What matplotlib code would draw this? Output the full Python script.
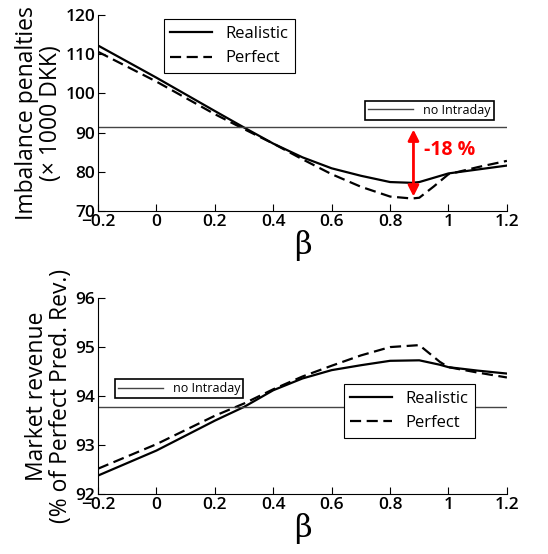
import matplotlib.pyplot as plt
import numpy as np

beta = [-0.2, 0.0, 0.2, 0.3, 0.4, 0.5, 0.6, 0.7, 0.8, 0.875, 0.9, 0.95, 1.0, 1.1, 1.2]

# top: imbalance penalties (x 1000 DKK)
pen_real = [112.2, 104.0, 95.5, 91.3, 87.2, 83.7, 80.9, 79.0, 77.4, 77.2, 77.4, 78.5, 79.6, 80.6, 81.6]
pen_perf = [110.6, 103.0, 94.7, 90.9, 87.2, 83.2, 79.4, 76.2, 73.7, 73.2, 73.4, 76.3, 79.4, 81.2, 82.8]
pen_noid = 91.5

# bottom: market revenue (% of perfect pred. rev.)
beta_rev = [-0.2, 0.0, 0.2, 0.3, 0.4, 0.5, 0.6, 0.7, 0.8, 0.9, 0.97, 1.0, 1.1, 1.2]
rev_real = [92.38, 92.89, 93.5, 93.78, 94.12, 94.36, 94.53, 94.63, 94.72, 94.73, 94.64, 94.59, 94.52, 94.46]
rev_perf = [92.52, 93.02, 93.6, 93.85, 94.14, 94.40, 94.62, 94.83, 95.0, 95.04, 94.7, 94.59, 94.48, 94.38]
rev_noid = 93.77

xticks = [-0.2, 0, 0.2, 0.4, 0.6, 0.8, 1, 1.2]
xticklabels = ['\u22120.2', '0', '0.2', '0.4', '0.6', '0.8', '1', '1.2']

plt.rcParams['font.family'] = ['Open Sans', 'DejaVu Sans']

fig = plt.figure(figsize=(5.48, 5.54), dpi=100)
ax1 = fig.add_axes([0.179, 0.619, 0.746, 0.354])
ax2 = fig.add_axes([0.179, 0.108, 0.746, 0.354])


def style(ax, ylim, yticks):
    ax.set_xlim(-0.2, 1.2)
    ax.set_ylim(*ylim)
    ax.set_xticks(xticks)
    ax.set_xticklabels(xticklabels)
    ax.set_yticks(yticks)
    for s in ['top', 'right']:
        ax.spines[s].set_visible(False)
    ax.tick_params(direction='in', length=5, labelsize=12.5, pad=2)
    for lab in ax.get_xticklabels() + ax.get_yticklabels():
        lab.set_fontweight('semibold')
    ax.set_xlabel('\u03b2', fontsize=22, family='DejaVu Serif', labelpad=0)


# top panel
l1, = ax1.plot(beta, pen_real, 'k-', lw=1.6, label='Realistic')
l2, = ax1.plot(beta, pen_perf, 'k--', lw=1.6, dashes=(5, 2.5), label='Perfect')
l3 = ax1.axhline(pen_noid, color='#444444', lw=1.0, label='no Intraday')
style(ax1, (70, 120), [70, 80, 90, 100, 110, 120])
ax1.set_ylabel('Imbalance penalties\n(\u00d7 1000 DKK)', fontsize=16.5, linespacing=1.0, labelpad=2)
leg = ax1.legend(handles=[l1, l2], loc='upper left', bbox_to_anchor=(0.14, 1.02),
                 fontsize=12, fancybox=False, edgecolor='k', framealpha=1, handlelength=2.5)
leg.get_frame().set_linewidth(0.8)
ax1.add_artist(leg)
leg2 = ax1.legend(handles=[l3], loc='upper left', bbox_to_anchor=(0.638, 0.595),
                  fontsize=9, fancybox=False, edgecolor='k', framealpha=1, handlelength=3.6,
                  borderpad=0.25)
leg2.get_frame().set_linewidth(1.2)
ax1.annotate('', xy=(0.88, 73.0), xytext=(0.88, pen_noid),
             arrowprops=dict(arrowstyle='<|-|>', color='red', lw=2, mutation_scale=16))
ax1.text(0.915, 84.3, '-18 %', color='red', fontsize=14, fontweight='bold')

# bottom panel
m1, = ax2.plot(beta_rev, rev_real, 'k-', lw=1.6, label='Realistic')
m2, = ax2.plot(beta_rev, rev_perf, 'k--', lw=1.6, dashes=(5, 2.5), label='Perfect')
m3 = ax2.axhline(rev_noid, color='#444444', lw=1.0, label='no Intraday')
style(ax2, (92, 96), [92, 93, 94, 95, 96])
ax2.set_ylabel('Market revenue\n(% of Perfect Pred. Rev.)', fontsize=16.5, linespacing=1.0, labelpad=2)
leg3 = ax2.legend(handles=[m1, m2], loc='upper left', bbox_to_anchor=(0.58, 0.605),
                  fontsize=12, fancybox=False, edgecolor='k', framealpha=1, handlelength=2.5)
leg3.get_frame().set_linewidth(0.8)
ax2.add_artist(leg3)
leg4 = ax2.legend(handles=[m3], loc='upper left', bbox_to_anchor=(0.025, 0.62),
                  fontsize=9, fancybox=False, edgecolor='k', framealpha=1, handlelength=3.6,
                  borderpad=0.25)
leg4.get_frame().set_linewidth(1.2)

fig.savefig('out.png', dpi=100)
